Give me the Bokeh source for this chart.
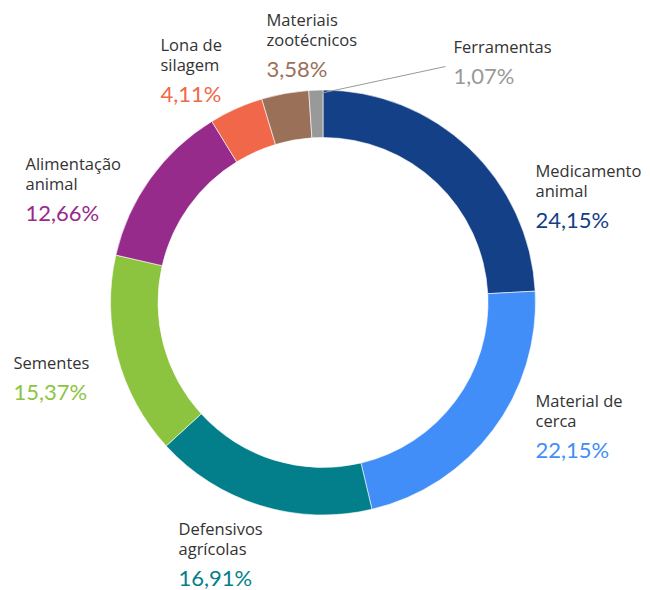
import math
from bokeh.plotting import figure
from bokeh.models import ColumnDataSource, Range1d
from bokeh.core.properties import value
from bokeh.embed import file_html
from bokeh.resources import INLINE

# Share of purchases by category (percent)
categories = ["Medicamento animal", "Material de cerca", "Defensivos agrícolas",
              "Sementes", "Alimentação animal", "Lona de silagem",
              "Materiais zootécnicos", "Ferramentas"]
label_lines = [["Medicamento", "animal"], ["Material de", "cerca"], ["Defensivos", "agrícolas"],
               ["Sementes"], ["Alimentação", "animal"], ["Lona de", "silagem"],
               ["Materiais", "zootécnicos"], ["Ferramentas"]]
shares = [24.15, 22.15, 16.91, 15.37, 12.66, 4.11, 3.58, 1.07]
colors = ["#134086", "#418ef8", "#027f8b", "#8cc43f", "#962b8b", "#f0674a", "#9a7158", "#999999"]

W, H = 650, 590
CX, CY = 322.5, H - 302.0
R_OUT, R_IN = 212.5, 165.0

# Label anchor (left x, top-of-first-line y in screen pixels)
label_pos = [(535, 170), (535, 400), (178, 528), (13, 362), (25, 163), (160, 44), (266, 19), (453, 46)]

p = figure(width=W, height=H, output_backend="svg", toolbar_location=None,
           x_range=Range1d(0, W), y_range=Range1d(0, H), min_border=0)
p.axis.visible = False
p.grid.visible = False
p.outline_line_color = None
p.background_fill_color = "white"

# Wedge angles, clockwise from 12 o'clock
total = sum(shares)
starts, ends = [], []
acc = 0.0
for v in shares:
    a0 = math.pi / 2 - 2 * math.pi * acc / total
    acc += v
    a1 = math.pi / 2 - 2 * math.pi * acc / total
    starts.append(a0)
    ends.append(a1)

src = ColumnDataSource(dict(x=[CX] * len(shares), y=[CY] * len(shares),
                            start=starts, end=ends, color=colors))
p.annular_wedge(x="x", y="y", inner_radius=R_IN, outer_radius=R_OUT,
                start_angle="start", end_angle="end", direction="clock",
                fill_color="color", line_color="white", line_width=0.6, source=src)

# Leader line for the smallest slice
mid = (starts[-1] + ends[-1]) / 2
p.line(x=[CX + R_OUT * math.cos(mid) + 1, 445], y=[CY + R_OUT * math.sin(mid) - 4, H - 66],
       line_color="#999999", line_width=1)

# Category names and percentages
nx, ny, nt = [], [], []
px, py, pt, pc = [], [], [], []
for lines, v, c, (lx, ly) in zip(label_lines, shares, colors, label_pos):
    for i, t in enumerate(lines):
        nx.append(lx)
        ny.append(H - (ly + 20 * i))
        nt.append(t)
    px.append(lx)
    py.append(H - (ly + 20 * (len(lines) - 1) + 29))
    pt.append(f"{v:.2f}".replace(".", ",") + "%")
    pc.append(c)

p.text(x=nx, y=ny, text=nt, text_font=value("Open Sans"), text_font_size="16.5px",
       text_color="#333333", text_baseline="middle", text_align="left")
p.text(x=px, y=py, text=pt, text_color=pc, text_font=value("Lato"), text_font_size="22px",
       text_baseline="middle", text_align="left")

open("out.html", "w").write(file_html(p, INLINE))
